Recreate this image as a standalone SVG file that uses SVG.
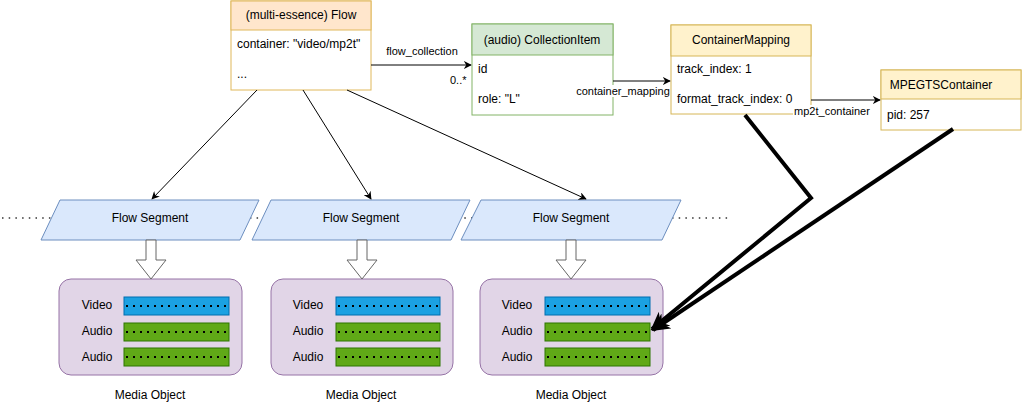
<svg xmlns="http://www.w3.org/2000/svg" width="1022" height="411" viewBox="0 0 1022 411">
<defs>
<style>
text{font-family:"Liberation Sans",Arial,sans-serif;fill:#000}
.t12{font-size:12px}
.t11{font-size:11px}
.mid{text-anchor:middle}
.edge{stroke:#000;stroke-width:1;fill:none}
.thick{stroke:#000;stroke-width:4;fill:none}
.seg{fill:#dae8fc;stroke:#6c8ebf;stroke-width:1}
.media{fill:#e1d5e7;stroke:#9673a6;stroke-width:1}
.vid{fill:#1ba1e2;stroke:#006eaf}
.aud{fill:#60a917;stroke:#2d7600}
.dots{stroke:#000;stroke-width:2;stroke-dasharray:2 5;fill:none}
.blk{fill:#fff;stroke:#666;stroke-width:1}
.lbl{fill:#fff}
</style>
<marker id="ah" viewBox="0 0 10 10" refX="9" refY="5" markerWidth="8" markerHeight="8" markerUnits="userSpaceOnUse" orient="auto">
<path d="M0,0 L10,5 L0,10 L3,5 z" fill="#000"/>
</marker>
<marker id="ahb" viewBox="0 0 10 10" refX="9" refY="5" markerWidth="18" markerHeight="18" markerUnits="userSpaceOnUse" orient="auto">
<path d="M0,0 L10,5 L0,10 L3,5 z" fill="#000"/>
</marker>
</defs>

<line x1="2" y1="218" x2="732" y2="218" stroke="#333" stroke-width="1.5" stroke-dasharray="1.5 5.2"/>

<g id="flow">
<rect x="231" y="1" width="140" height="89" fill="#fff" stroke="#e0b85a"/>
<rect x="231" y="1" width="140" height="29" fill="#ffe6cc" stroke="#e0b85a"/>
<text class="t12 mid" x="301" y="19">(multi-essence) Flow</text>
<text class="t12" x="237" y="48">container: "video/mp2t"</text>
<text class="t12" x="237" y="78">...</text>
</g>

<g id="collectionitem">
<rect x="472" y="24" width="141" height="91" fill="#fff" stroke="#82b366"/>
<rect x="472" y="24" width="141" height="31" fill="#d5e8d4" stroke="#82b366"/>
<text class="t12 mid" x="542" y="44">(audio) CollectionItem</text>
<text class="t12" x="478" y="73">id</text>
<text class="t12" x="478" y="103">role: "L"</text>
</g>

<g id="containermapping">
<rect x="671" y="25" width="140" height="89" fill="#fff" stroke="#d6b656"/>
<rect x="671" y="25" width="140" height="31" fill="#fff2cc" stroke="#d6b656"/>
<text class="t12 mid" x="741" y="44">ContainerMapping</text>
<text class="t12" x="677" y="73">track_index: 1</text>
<text class="t12" x="677" y="103">format_track_index: 0</text>
</g>

<g id="mpegtscontainer">
<rect x="881" y="70" width="140" height="60" fill="#fff" stroke="#d6b656"/>
<rect x="881" y="70" width="140" height="29" fill="#fff2cc" stroke="#d6b656"/>
<text class="t12 mid" x="941" y="89">MPEGTSContainer</text>
<text class="t12" x="887" y="119">pid: 257</text>
</g>

<g id="segment1">
<polygon class="seg" points="60,200 259,200 240,240 41,240"/>
<text class="t12 mid" x="150" y="222">Flow Segment</text>
</g>
<g id="segment2">
<polygon class="seg" points="271,200 470,200 451,240 252,240"/>
<text class="t12 mid" x="361" y="222">Flow Segment</text>
</g>
<g id="segment3">
<polygon class="seg" points="481,200 681,200 662,240 461,240"/>
<text class="t12 mid" x="571" y="222">Flow Segment</text>
</g>

<g id="media1">
<rect class="media" x="59" y="279" width="183" height="96" rx="12"/>
<text class="t12 mid" x="97" y="309">Video</text>
<text class="t12 mid" x="97" y="335">Audio</text>
<text class="t12 mid" x="97" y="361">Audio</text>
<rect class="vid" x="124" y="297" width="105" height="18"/>
<rect class="aud" x="124" y="323" width="105" height="18"/>
<rect class="aud" x="124" y="348" width="105" height="18"/>
<line class="dots" x1="126" y1="306" x2="229" y2="306"/>
<line class="dots" x1="126" y1="332" x2="229" y2="332"/>
<line class="dots" x1="126" y1="357" x2="229" y2="357"/>
<text class="t12 mid" x="150" y="399">Media Object</text>
</g>
<g id="media2">
<rect class="media" x="271" y="279" width="182" height="96" rx="12"/>
<text class="t12 mid" x="308" y="309">Video</text>
<text class="t12 mid" x="308" y="335">Audio</text>
<text class="t12 mid" x="308" y="361">Audio</text>
<rect class="vid" x="336" y="297" width="104" height="18"/>
<rect class="aud" x="336" y="323" width="104" height="18"/>
<rect class="aud" x="336" y="348" width="104" height="18"/>
<line class="dots" x1="338" y1="306" x2="440" y2="306"/>
<line class="dots" x1="338" y1="332" x2="440" y2="332"/>
<line class="dots" x1="338" y1="357" x2="440" y2="357"/>
<text class="t12 mid" x="361" y="399">Media Object</text>
</g>
<g id="media3">
<rect class="media" x="480" y="279" width="183" height="96" rx="12"/>
<text class="t12 mid" x="517" y="309">Video</text>
<text class="t12 mid" x="517" y="335">Audio</text>
<text class="t12 mid" x="517" y="361">Audio</text>
<rect class="vid" x="545" y="297" width="105" height="18"/>
<rect class="aud" x="545" y="323" width="105" height="18"/>
<rect class="aud" x="545" y="348" width="105" height="18"/>
<line class="dots" x1="547" y1="306" x2="650" y2="306"/>
<line class="dots" x1="547" y1="332" x2="650" y2="332"/>
<line class="dots" x1="547" y1="357" x2="650" y2="357"/>
<text class="t12 mid" x="571" y="399">Media Object</text>
</g>

<g id="connectors">
<line class="edge" x1="371" y1="65" x2="471" y2="65" marker-end="url(#ah)"/>
<text class="t11 mid" x="422" y="55">flow_collection</text>
<text class="t11" x="450" y="84">0..*</text>

<line class="edge" x1="613" y1="81" x2="670" y2="81" marker-end="url(#ah)"/>
<rect class="lbl" x="576" y="85" width="94" height="12"/>
<text class="t11 mid" x="623" y="95">container_mapping</text>

<line class="edge" x1="811" y1="100" x2="880" y2="100" marker-end="url(#ah)"/>
<rect class="lbl" x="793" y="105" width="78" height="12"/>
<text class="t11 mid" x="832" y="115">mp2t_container</text>

<line class="edge" x1="257" y1="90" x2="152" y2="199" marker-end="url(#ah)"/>
<line class="edge" x1="303" y1="90" x2="371" y2="199" marker-end="url(#ah)"/>
<line class="edge" x1="347" y1="90" x2="586" y2="199" marker-end="url(#ah)"/>

<path class="blk" d="M146,240 L156,240 L156,260 L166,260 L151,279 L136,260 L146,260 Z"/>
<path class="blk" d="M357,240 L367,240 L367,260 L377,260 L362,279 L347,260 L357,260 Z"/>
<path class="blk" d="M566,240 L576,240 L576,260 L586,260 L571,279 L556,260 L566,260 Z"/>

<polyline class="thick" points="745,115 811,198 652,329" marker-end="url(#ahb)"/>
<line class="thick" x1="953" y1="129" x2="653" y2="330" marker-end="url(#ahb)"/>
</g>
</svg>
